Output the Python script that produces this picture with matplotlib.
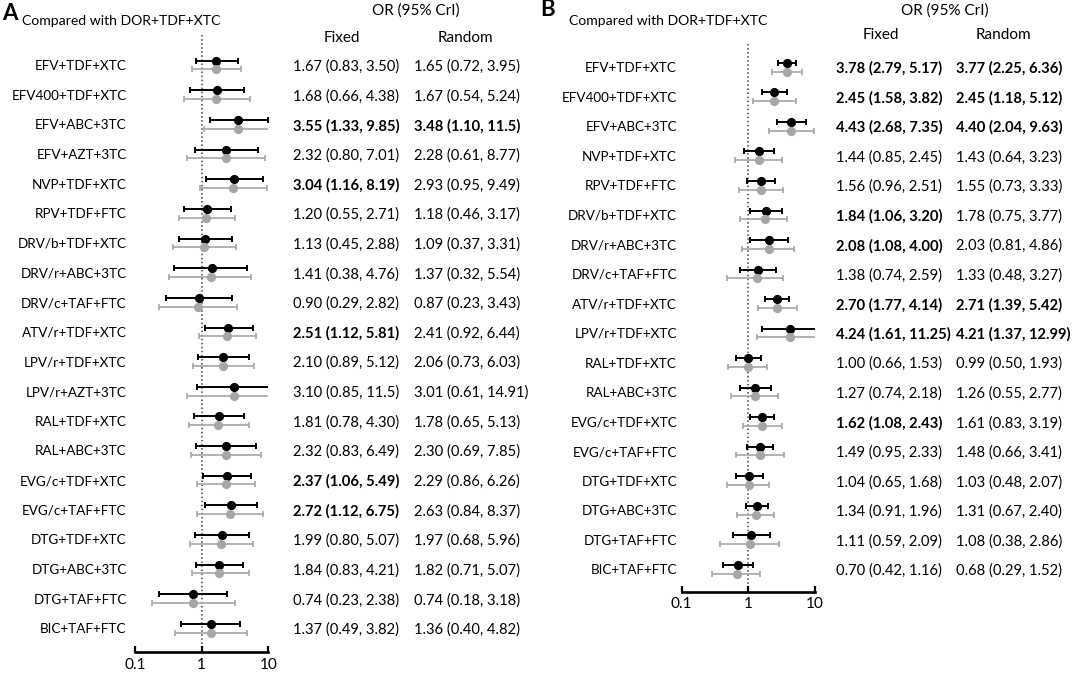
import matplotlib
matplotlib.use("Agg")
import matplotlib.pyplot as plt
from matplotlib.transforms import blended_transform_factory
from matplotlib.ticker import FixedLocator, NullLocator, FixedFormatter
from matplotlib.textpath import TextPath
from matplotlib.font_manager import FontProperties

FAMILY = ['Lato', 'DejaVu Sans']
plt.rcParams['font.family'] = FAMILY

W, H = 1072, 675
DPI = 100

# ---- Panel A data (OR vs DOR+TDF+XTC) ----
a_regimens = ['EFV+TDF+XTC', 'EFV400+TDF+XTC', 'EFV+ABC+3TC', 'EFV+AZT+3TC', 'NVP+TDF+XTC',
              'RPV+TDF+FTC', 'DRV/b+TDF+XTC', 'DRV/r+ABC+3TC', 'DRV/c+TAF+FTC', 'ATV/r+TDF+XTC',
              'LPV/r+TDF+XTC', 'LPV/r+AZT+3TC', 'RAL+TDF+XTC', 'RAL+ABC+3TC', 'EVG/c+TDF+XTC',
              'EVG/c+TAF+FTC', 'DTG+TDF+XTC', 'DTG+ABC+3TC', 'DTG+TAF+FTC', 'BIC+TAF+FTC']
a_fixed_est = ['1.67', '1.68', '3.55', '2.32', '3.04', '1.20', '1.13', '1.41', '0.90', '2.51',
               '2.10', '3.10', '1.81', '2.32', '2.37', '2.72', '1.99', '1.84', '0.74', '1.37']
a_fixed_lo = ['0.83', '0.66', '1.33', '0.80', '1.16', '0.55', '0.45', '0.38', '0.29', '1.12',
              '0.89', '0.85', '0.78', '0.83', '1.06', '1.12', '0.80', '0.83', '0.23', '0.49']
a_fixed_hi = ['3.50', '4.38', '9.85', '7.01', '8.19', '2.71', '2.88', '4.76', '2.82', '5.81',
              '5.12', '11.5', '4.30', '6.49', '5.49', '6.75', '5.07', '4.21', '2.38', '3.82']
a_rand_est = ['1.65', '1.67', '3.48', '2.28', '2.93', '1.18', '1.09', '1.37', '0.87', '2.41',
              '2.06', '3.01', '1.78', '2.30', '2.29', '2.63', '1.97', '1.82', '0.74', '1.36']
a_rand_lo = ['0.72', '0.54', '1.10', '0.61', '0.95', '0.46', '0.37', '0.32', '0.23', '0.92',
             '0.73', '0.61', '0.65', '0.69', '0.86', '0.84', '0.68', '0.71', '0.18', '0.40']
a_rand_hi = ['3.95', '5.24', '11.5', '8.77', '9.49', '3.17', '3.31', '5.54', '3.43', '6.44',
             '6.03', '14.91', '5.13', '7.85', '6.26', '8.37', '5.96', '5.07', '3.18', '4.82']

# ---- Panel B data ----
b_regimens = ['EFV+TDF+XTC', 'EFV400+TDF+XTC', 'EFV+ABC+3TC', 'NVP+TDF+XTC', 'RPV+TDF+FTC',
              'DRV/b+TDF+XTC', 'DRV/r+ABC+3TC', 'DRV/c+TAF+FTC', 'ATV/r+TDF+XTC', 'LPV/r+TDF+XTC',
              'RAL+TDF+XTC', 'RAL+ABC+3TC', 'EVG/c+TDF+XTC', 'EVG/c+TAF+FTC', 'DTG+TDF+XTC',
              'DTG+ABC+3TC', 'DTG+TAF+FTC', 'BIC+TAF+FTC']
b_fixed_est = ['3.78', '2.45', '4.43', '1.44', '1.56', '1.84', '2.08', '1.38', '2.70', '4.24',
               '1.00', '1.27', '1.62', '1.49', '1.04', '1.34', '1.11', '0.70']
b_fixed_lo = ['2.79', '1.58', '2.68', '0.85', '0.96', '1.06', '1.08', '0.74', '1.77', '1.61',
              '0.66', '0.74', '1.08', '0.95', '0.65', '0.91', '0.59', '0.42']
b_fixed_hi = ['5.17', '3.82', '7.35', '2.45', '2.51', '3.20', '4.00', '2.59', '4.14', '11.25',
              '1.53', '2.18', '2.43', '2.33', '1.68', '1.96', '2.09', '1.16']
b_rand_est = ['3.77', '2.45', '4.40', '1.43', '1.55', '1.78', '2.03', '1.33', '2.71', '4.21',
              '0.99', '1.26', '1.61', '1.48', '1.03', '1.31', '1.08', '0.68']
b_rand_lo = ['2.25', '1.18', '2.04', '0.64', '0.73', '0.75', '0.81', '0.48', '1.39', '1.37',
             '0.50', '0.55', '0.83', '0.66', '0.48', '0.67', '0.38', '0.29']
b_rand_hi = ['6.36', '5.12', '9.63', '3.23', '3.33', '3.77', '4.86', '3.27', '5.42', '12.99',
             '1.93', '2.77', '3.19', '3.41', '2.07', '2.40', '2.86', '1.52']


def ink_width_px(s, size, weight='normal'):
    # width of the glyph outlines, in pixels at DPI
    tp = TextPath((0, 0), s, size=size, prop=FontProperties(family=FAMILY, weight=weight))
    return tp.get_extents().width * DPI / 72


def fit_size(s, target_px, weight='normal'):
    # font size that gives the text the width it has in the reference
    return 10 * target_px / ink_width_px(s, 10, weight)


FS_VAL = fit_size('1.68 (0.66, 4.38)', 104)
FS_LAB = fit_size('EFV400+TDF+XTC', 114)
FS_CMP = fit_size('Compared with DOR+TDF+XTC', 198)
FS_HEAD = fit_size('Random', 53)
FS_TICK = fit_size('0.1', 20)

fig = plt.figure(figsize=(W / DPI, H / DPI), dpi=DPI)


def draw_panel(letter, rect_px, ylim, regimens, fe, fl, fh, re_, rl, rh, px, hy):
    x0, x1, ytop, ybot = rect_px
    ax = fig.add_axes([x0 / W, 1 - ybot / H, (x1 - x0) / W, (ybot - ytop) / H])
    ax.set_xscale('log')
    ax.set_xlim(0.1, 10)
    ax.set_ylim(*ylim)
    rows = list(range(len(regimens)))

    for series, off, col, lw in [((fe, fl, fh), -0.147, 'black', 1.4),
                                 ((re_, rl, rh), 0.147, '#a6a6a6', 1.2)]:
        est = [float(v) for v in series[0]]
        lo = [float(v) for v in series[1]]
        hi = [float(v) for v in series[2]]
        err = [[e - l for e, l in zip(est, lo)], [h - e for e, h in zip(est, hi)]]
        ax.errorbar(est, [r + off for r in rows], xerr=err, fmt='o', color=col, ecolor=col,
                    markersize=5.6, elinewidth=lw, capsize=2.3, capthick=lw, zorder=3)

    ax.axvline(1, color='#444444', linestyle=':', linewidth=1.1, zorder=1)

    for s in ['top', 'right', 'left']:
        ax.spines[s].set_visible(False)
    ax.spines['bottom'].set_linewidth(1.9)
    ax.xaxis.set_major_locator(FixedLocator([0.1, 1, 10]))
    ax.xaxis.set_major_formatter(FixedFormatter(['0.1', '1', '10']))
    ax.xaxis.set_minor_locator(NullLocator())
    ax.tick_params(axis='x', direction='in', length=4, width=1.6, labelsize=FS_TICK, pad=4)
    ax.set_yticks([])
    ax.patch.set_alpha(0)

    tr = blended_transform_factory(fig.transFigure, ax.transData)
    lab_x, fix_x, ran_x = px
    for i, name in enumerate(regimens):
        ax.text(lab_x / W, i, name, transform=tr, ha='right', va='center_baseline',
                fontsize=FS_LAB)
        fw = 'bold' if float(fl[i]) > 1 or float(fh[i]) < 1 else 'normal'
        fix_txt = f'{fe[i]} ({fl[i]}, {fh[i]})'
        ax.text(fix_x / W, i, fix_txt, transform=tr, ha='left',
                va='center_baseline', fontsize=FS_VAL, fontweight=fw)
        # a long fixed entry pushes its random neighbour to the right
        fix_end = fix_x + ink_width_px(fix_txt, FS_VAL, fw)
        rx = max(ran_x, fix_end + 5)
        rw = 'bold' if float(rl[i]) > 1 or float(rh[i]) < 1 else 'normal'
        ax.text(rx / W, i, f'{re_[i]} ({rl[i]}, {rh[i]})', transform=tr, ha='left',
                va='center_baseline', fontsize=FS_VAL, fontweight=rw)

    # headers
    lx, ly, cx, cy, orx, ory, fxc, rxc, fry = hy
    fig.text(lx / W, 1 - ly / H, letter, fontsize=16, fontweight='bold', ha='left', va='center')
    fig.text(cx / W, 1 - cy / H, 'Compared with DOR+TDF+XTC', fontsize=FS_CMP, ha='left',
             va='center')
    fig.text(orx / W, 1 - ory / H, 'OR (95% CrI)', fontsize=FS_HEAD, ha='center', va='center')
    fig.text(fxc / W, 1 - fry / H, 'Fixed', fontsize=FS_HEAD, ha='center', va='center')
    fig.text(rxc / W, 1 - fry / H, 'Random', fontsize=FS_HEAD, ha='center', va='center')
    return ax


draw_panel('A', (135, 268.3, 34, 652), (19.80, -1.049),
           a_regimens, a_fixed_est, a_fixed_lo, a_fixed_hi, a_rand_est, a_rand_lo, a_rand_hi,
           (126.7, 293, 414), (2, 14, 22, 21, 416, 10.5, 342, 465.5, 38))

draw_panel('B', (681.5, 815, 41.5, 591.7), (17.76, -0.870),
           b_regimens, b_fixed_est, b_fixed_lo, b_fixed_hi, b_rand_est, b_rand_lo, b_rand_hi,
           (677, 836, 956), (540, 9, 569, 21, 945, 10.4, 881, 1003.5, 34.6))

fig.savefig('out.png', dpi=DPI)
